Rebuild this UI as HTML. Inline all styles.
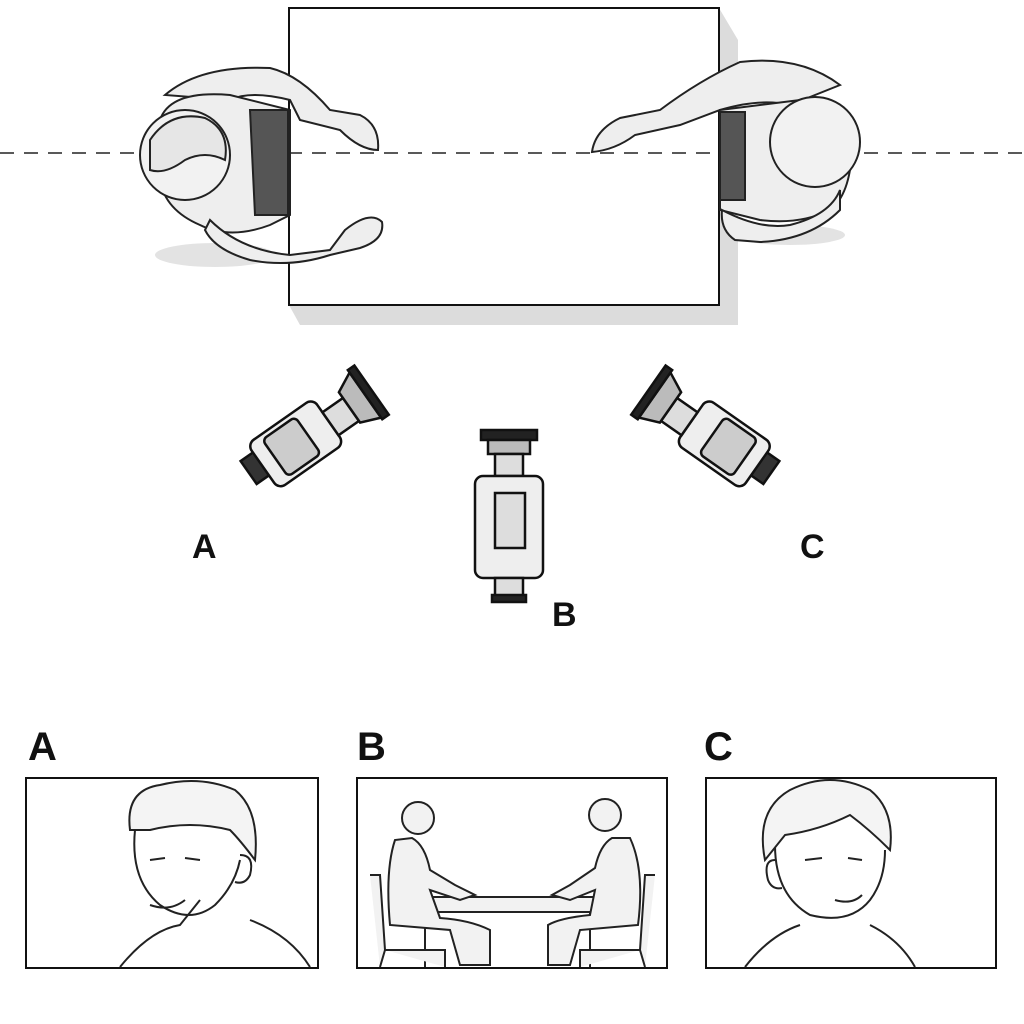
<!DOCTYPE html>
<html><head><meta charset="utf-8"><style>
html,body{margin:0;padding:0;background:#fff;}
svg{display:block}
text{font-family:"Liberation Sans",sans-serif;font-weight:bold;fill:#111}
</style></head><body>
<svg width="1024" height="1024" viewBox="0 0 1024 1024" xmlns="http://www.w3.org/2000/svg">
<rect width="1024" height="1024" fill="#fff"/>
<!-- table shadow -->
<polygon points="289,305 300,325 738,325 738,40 719,8 719,305" fill="#dcdcdc"/>
<rect x="289" y="8" width="430" height="297" fill="#fff" stroke="#111" stroke-width="2"/>
<!-- dashed line -->
<line x1="0" y1="153" x2="1024" y2="153" stroke="#222" stroke-width="1.5" stroke-dasharray="14,10"/>

<!-- left person -->
<g stroke="#222" stroke-width="2" fill="#eee">
<ellipse cx="215" cy="255" rx="60" ry="12" fill="#e3e3e3" stroke="none"/>
<path d="M165,95 Q200,65 270,68 Q300,75 330,110 L360,115 Q380,125 378,150 Q360,150 340,130 L300,120 L290,100 Q250,90 230,100 Z"/>
<path d="M160,120 Q170,90 230,95 L290,110 L290,215 L270,225 Q230,240 200,225 Q165,210 160,180 Z"/>
<path d="M250,110 L288,110 L288,215 L255,215 Z" fill="#555"/>
<path d="M210,220 Q240,250 290,255 L330,250 L345,230 Q370,210 382,222 Q385,240 360,248 L330,255 Q290,268 250,260 Q215,250 205,230 Z"/>
<circle cx="185" cy="155" r="45" fill="#f2f2f2"/>
<path d="M150,140 Q170,110 205,118 Q230,130 225,160 Q205,150 185,160 Q165,175 150,170 Z" fill="#e6e6e6"/>
</g>
<!-- right person -->
<g stroke="#222" stroke-width="2" fill="#eee">
<ellipse cx="790" cy="235" rx="55" ry="10" fill="#e3e3e3" stroke="none"/>
<path d="M840,85 Q800,55 740,62 Q700,80 660,110 L620,118 Q595,130 592,152 Q615,150 635,135 L680,125 L720,110 Q760,98 790,105 Z"/>
<path d="M720,110 L800,100 Q850,110 852,150 Q850,195 830,210 Q800,225 760,220 L720,210 Z"/>
<path d="M720,112 L745,112 L745,200 L720,200 Z" fill="#555"/>
<path d="M722,210 Q760,230 790,225 Q830,215 840,190 L840,210 Q810,240 760,242 L735,240 Q720,230 722,210 Z"/>
<circle cx="815" cy="142" r="45" fill="#f2f2f2"/>
</g>

<!-- camera A -->
<g transform="translate(300,450) rotate(-35)" stroke="#111" stroke-width="2.5">
<rect x="-55" y="-25" width="18" height="28" fill="#333"/>
<rect x="-40" y="-35" width="80" height="55" rx="8" fill="#eee"/>
<rect x="-25" y="-30" width="40" height="45" rx="5" fill="#ccc"/>
<rect x="40" y="-18" width="25" height="28" fill="#ddd"/>
<path d="M65,-25 L85,-35 L85,20 L65,12 Z" fill="#bbb"/>
<rect x="85" y="-38" width="8" height="60" fill="#222"/>
</g>
<!-- camera B -->
<g stroke="#111" stroke-width="2.5">
<rect x="481" y="430" width="56" height="10" fill="#222"/>
<rect x="488" y="440" width="42" height="14" fill="#bbb"/>
<rect x="495" y="454" width="28" height="22" fill="#ddd"/>
<rect x="475" y="476" width="68" height="102" rx="8" fill="#eee"/>
<rect x="495" y="493" width="30" height="55" fill="#ddd"/>
<rect x="495" y="578" width="28" height="20" fill="#ddd"/>
<rect x="492" y="595" width="34" height="7" fill="#222"/>
</g>
<!-- camera C -->
<g transform="translate(720,450) rotate(35)" stroke="#111" stroke-width="2.5">
<rect x="37" y="-25" width="18" height="28" fill="#333"/>
<rect x="-40" y="-35" width="80" height="55" rx="8" fill="#eee"/>
<rect x="-15" y="-30" width="40" height="45" rx="5" fill="#ccc"/>
<rect x="-65" y="-18" width="25" height="28" fill="#ddd"/>
<path d="M-65,-25 L-85,-35 L-85,20 L-65,12 Z" fill="#bbb"/>
<rect x="-93" y="-38" width="8" height="60" fill="#222"/>
</g>

<text x="192" y="558" font-size="34">A</text>
<text x="552" y="626" font-size="34">B</text>
<text x="800" y="558" font-size="34">C</text>

<text x="28" y="760" font-size="40">A</text>
<text x="357" y="760" font-size="40">B</text>
<text x="704" y="760" font-size="40">C</text>

<!-- panels -->
<rect x="26" y="778" width="292" height="190" fill="#fff" stroke="#111" stroke-width="2"/>
<rect x="357" y="778" width="310" height="190" fill="#fff" stroke="#111" stroke-width="2"/>
<rect x="706" y="778" width="290" height="190" fill="#fff" stroke="#111" stroke-width="2"/>

<!-- face A -->
<g stroke="#222" stroke-width="2" fill="none">
<path d="M120,967 Q150,930 180,925 L200,900 M250,920 Q290,935 310,967"/>
<path d="M135,830 Q130,880 160,905 Q190,925 215,905 Q235,885 240,860"/>
<path d="M130,830 Q125,790 160,785 Q200,775 235,790 Q260,810 255,860 Q240,840 230,830 Q190,820 150,830 Z" fill="#f4f4f4"/>
<path d="M240,855 Q255,855 250,875 Q245,885 235,882"/>
<path d="M150,860 L165,858 M185,858 L200,860 M150,905 Q170,912 185,900"/>
</g>
<!-- face C -->
<g stroke="#222" stroke-width="2" fill="none">
<path d="M745,967 Q770,935 800,925 M870,925 Q900,940 915,967"/>
<path d="M775,845 Q775,895 810,915 Q850,925 870,900 Q885,880 885,850"/>
<path d="M765,860 Q755,810 790,790 Q830,770 870,790 Q895,810 890,850 Q870,830 850,815 Q820,830 785,835 Z" fill="#f4f4f4"/>
<path d="M775,860 Q763,860 768,880 Q772,890 782,888"/>
<path d="M805,860 L822,858 M848,858 L862,860 M835,900 Q852,905 862,895"/>
</g>
<!-- panel B scene -->
<g stroke="#222" stroke-width="2" fill="#f2f2f2">
<rect x="415" y="897" width="185" height="15"/>
<line x1="425" y1="912" x2="425" y2="967"/><line x1="590" y1="912" x2="590" y2="967"/>
<path d="M370,875 L380,875 L385,950 L380,967 M385,950 L445,950 L445,967"/>
<circle cx="418" cy="818" r="16"/>
<path d="M395,840 Q385,870 390,925 L450,930 L460,965 L490,965 L490,930 Q470,920 440,918 L430,890 L460,900 L475,895 L455,885 L430,870 Q425,845 412,838 Z"/>
<path d="M655,875 L645,875 L640,950 L645,967 M640,950 L580,950 L580,967"/>
<circle cx="605" cy="815" r="16"/>
<path d="M630,838 Q645,870 638,925 L580,930 L570,965 L548,965 L548,925 Q560,918 590,915 L595,890 L570,900 L552,895 L570,885 L595,868 Q600,845 612,838 Z"/>
</g>
</svg>
</body></html>
